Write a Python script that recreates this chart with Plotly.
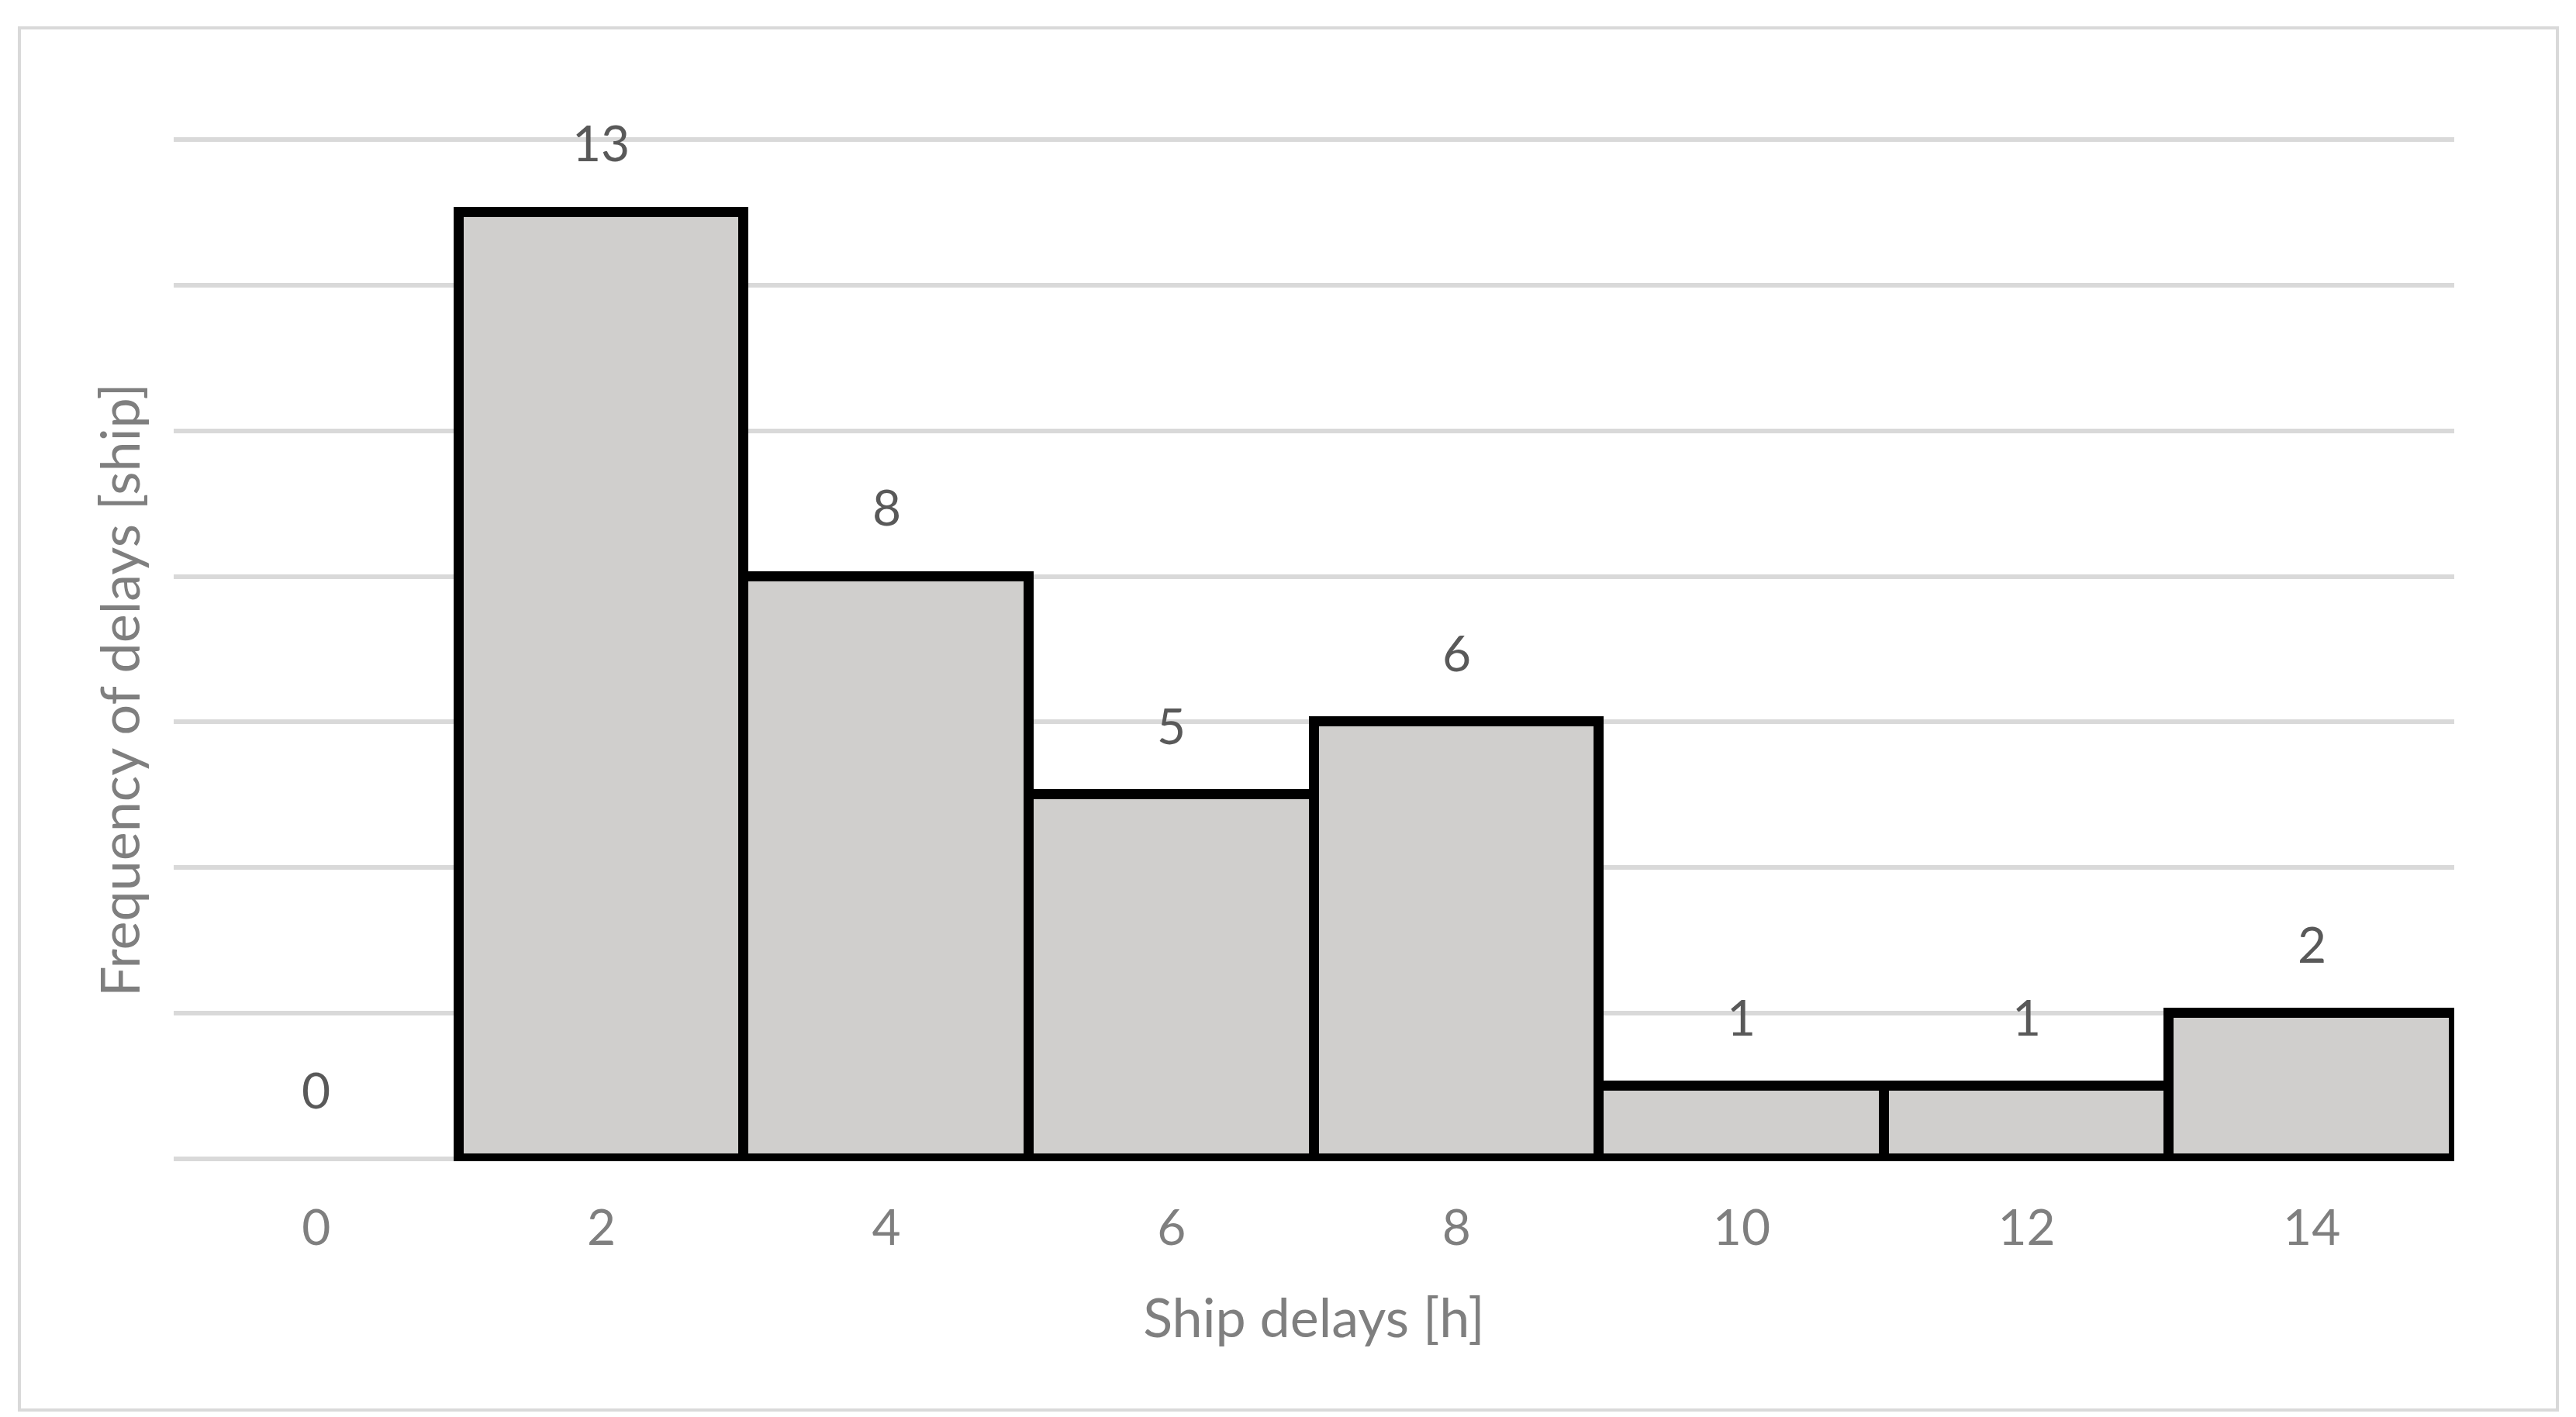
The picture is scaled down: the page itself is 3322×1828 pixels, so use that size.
import plotly.graph_objects as go

# Data
delay_hours = [0, 2, 4, 6, 8, 10, 12, 14]
frequency = [0, 13, 8, 5, 6, 1, 1, 2]
tick_labels = ["0", "2", "4", "6", "8", "10", "12", "14"]
x_title = "Ship delays [h]"
y_title = "Frequency of delays [ship]"

W, H = 3322, 1828
L, R, T, B = 216, 3322 - 3157, 169, 338
pw, ph = W - L - R, H - T - B

FONT = "Lato, Calibri, Carlito, sans-serif"

fig = go.Figure()
fig.add_trace(go.Bar(
    x=delay_hours,
    y=frequency,
    width=2,
    marker=dict(color="#d0cfcd",
                line=dict(color="#000000", width=[13 if v > 0 else 0 for v in frequency])),
    hoverinfo="x+y",
))

annotations = []
for xv, yv in zip(delay_hours, frequency):
    annotations.append(dict(
        x=xv, y=yv, xref="x", yref="y", text=str(yv), showarrow=False,
        yshift=90, font=dict(family=FONT, size=64, color="#595959"),
    ))

# y axis title (placed slightly below plot centre as in reference)
annotations.append(dict(
    text=y_title, textangle=-90, showarrow=False,
    xref="paper", yref="paper",
    x=(145 - L) / pw, y=(H - B - 882) / ph,
    xanchor="center", yanchor="middle",
    font=dict(family=FONT, size=70, color="#7f7f7f"),
))

# outer chart border
bx0, by0, bx1, by1 = 17, 28, 3290, 1811
shapes = [dict(
    type="rect", xref="paper", yref="paper",
    x0=(bx0 - L) / pw, x1=(bx1 - L) / pw,
    y0=(H - B - by1) / ph, y1=(H - B - by0) / ph,
    line=dict(color="#d9d9d9", width=4), fillcolor="rgba(0,0,0,0)", layer="below",
)]

fig.update_layout(
    width=W, height=H,
    margin=dict(l=L, r=R, t=T, b=B, autoexpand=False),
    paper_bgcolor="white", plot_bgcolor="white",
    bargap=0,
    showlegend=False,
    font=dict(family=FONT, color="#7f7f7f"),
    annotations=annotations,
    shapes=shapes,
    xaxis=dict(
        range=[-1, 15],
        tickmode="array", tickvals=delay_hours, ticktext=tick_labels,
        tickfont=dict(family=FONT, size=64, color="#7f7f7f"),
        ticks="outside", ticklen=30, tickcolor="rgba(0,0,0,0)",
        showgrid=False, zeroline=False, showline=False,
        title=dict(text=x_title, font=dict(family=FONT, size=70, color="#7f7f7f"), standoff=57),
    ),
    yaxis=dict(
        range=[-0.03, 14.03], dtick=2, tick0=0,
        showticklabels=False, ticks="",
        showgrid=True, gridcolor="#d9d9d9", gridwidth=6,
        zeroline=False, showline=False,
    ),
)

fig.write_html("out.html")
